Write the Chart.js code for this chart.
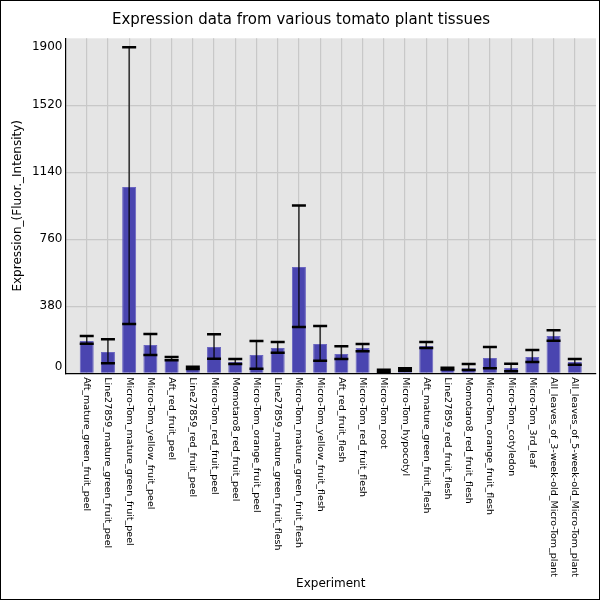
<!DOCTYPE html>
<html>
<head>
<meta charset="utf-8">
<script src="https://cdn.jsdelivr.net/npm/chart.js@4.4.1/dist/chart.umd.min.js"></script>
<style>
  html, body { margin: 0; padding: 0; background: #fff; }
  #wrap { width: 600px; height: 600px; }
</style>
</head>
<body>
<div id="wrap"><canvas id="exprChart" width="600" height="600"></canvas></div>
<script>
// tissues on the x axis
var tissues = [
  'Aft_mature_green_fruit_peel',
  'Line27859_mature_green_fruit_peel',
  'Micro-Tom_mature_green_fruit_peel',
  'Micro-Tom_yellow_fruit_peel',
  'Aft_red_fruit_peel',
  'Line27859_red_fruit_peel',
  'Micro-Tom_red_fruit_peel',
  'Momotaro8_red_fruit_peel',
  'Micro-Tom_orange_fruit_peel',
  'Line27859_mature_green_fruit_flesh',
  'Micro-Tom_mature_green_fruit_flesh',
  'Micro-Tom_yellow_fruit_flesh',
  'Aft_red_fruit_flesh',
  'Micro-Tom_red_fruit_flesh',
  'Micro-Tom_root',
  'Micro-Tom_hypocotyl',
  'Aft_mature_green_fruit_flesh',
  'Line27859_red_fruit_flesh',
  'Momotaro8_red_fruit_flesh',
  'Micro-Tom_orange_fruit_flesh',
  'Micro-Tom_cotyledon',
  'Micro-Tom_3rd_leaf',
  'All_leaves_of_3-week-old_Micro-Tom_plant',
  'All_leaves_of_5-week-old_Micro-Tom_plant'
];

// mean expression
var expression = [183, 121, 1057, 161, 81, 30, 149, 64, 104, 144, 603, 166,
                  109, 144, 15, 19, 155, 26, 28, 87, 30, 92, 212, 64];
// error bar ends
var errLow  = [168, 57, 279, 104, 74, 24, 83, 53, 26, 117, 263, 71,
               81, 125, 9, 14, 144, 21, 19, 28, 11, 64, 185, 49];
var errHigh = [212, 193, 1849, 223, 92, 37, 221, 81, 183, 178, 951, 268,
               153, 166, 20, 28, 178, 32, 53, 149, 54, 132, 244, 81];

var yTicks = [0, 380, 760, 1140, 1520, 1900];

var chartTitle = 'Expression data from various tomato plant tissues';
var yTitle = 'Expression_(Fluor._Intensity)';
var xTitle = 'Experiment';

var FONT = '"DejaVu Sans", sans-serif';

// grey panel behind the plot
var panelBg = {
  id: 'panelBg',
  beforeDraw: function(chart) {
    var ctx = chart.ctx, a = chart.chartArea;
    ctx.save();
    ctx.fillStyle = '#e5e5e5';
    ctx.fillRect(a.left, a.top, a.right - a.left, a.bottom - a.top);
    ctx.restore();
  }
};

// error bars from errLow / errHigh
var errorBars = {
  id: 'errorBars',
  afterDatasetsDraw: function(chart) {
    var ctx = chart.ctx;
    var xs = chart.scales.x, ys = chart.scales.y;
    var half = 7;
    ctx.save();
    for (var i = 0; i < expression.length; i++) {
      var x = xs.getPixelForValue(i);
      var yl = ys.getPixelForValue(errLow[i]);
      var yh = ys.getPixelForValue(errHigh[i]);
      ctx.strokeStyle = 'rgba(0,0,0,0.8)';
      ctx.lineWidth = 1.5;
      ctx.beginPath();
      ctx.moveTo(x, yl);
      ctx.lineTo(x, yh);
      ctx.stroke();
      ctx.strokeStyle = '#000';
      ctx.lineWidth = 2.5;
      ctx.beginPath();
      ctx.moveTo(x - half, yl); ctx.lineTo(x + half, yl);
      ctx.moveTo(x - half, yh); ctx.lineTo(x + half, yh);
      ctx.stroke();
    }
    ctx.restore();
  }
};

// texts: title, tick labels, axis titles, frame
var texts = {
  id: 'texts',
  afterDraw: function(chart) {
    var ctx = chart.ctx, a = chart.chartArea;
    var xs = chart.scales.x, ys = chart.scales.y;
    ctx.save();
    ctx.fillStyle = '#000';

    ctx.font = '15px ' + FONT;
    ctx.textAlign = 'center';
    ctx.textBaseline = 'middle';
    ctx.fillText(chartTitle, 301, 20);

    // y tick labels, kept inside the panel at both ends
    ctx.font = '12px ' + FONT;
    ctx.textAlign = 'right';
    yTicks.forEach(function(v) {
      var y = ys.getPixelForValue(v);
      y = Math.min(Math.max(y, a.top + 9), a.bottom - 6.5);
      ctx.fillText(String(v), a.left - 3, y);
    });

    // x tick labels, reading top to bottom
    ctx.font = '9.5px ' + FONT;
    ctx.textAlign = 'left';
    tissues.forEach(function(t, i) {
      var x = xs.getPixelForValue(i);
      ctx.save();
      ctx.translate(x, a.bottom + 4);
      ctx.rotate(Math.PI / 2);
      ctx.fillText(t, 0, 0);
      ctx.restore();
    });

    ctx.font = '12px ' + FONT;
    ctx.textAlign = 'center';
    ctx.fillText(xTitle, (a.left + a.right) / 2, 584);

    ctx.save();
    ctx.translate(18, (a.top + a.bottom) / 2);
    ctx.rotate(-Math.PI / 2);
    ctx.fillText(yTitle, 0, 0);
    ctx.restore();

    ctx.strokeStyle = '#000';
    ctx.lineWidth = 1;
    ctx.strokeRect(0.5, 0.5, 599, 599);
    ctx.restore();
  }
};

var ctx1 = document.getElementById('exprChart').getContext('2d');
new Chart(ctx1, {
  type: 'bar',
  data: {
    datasets: [{
      label: 'Expression',
      data: expression.map(function(v, i) { return { x: i, y: v }; }),
      backgroundColor: '#4a45b0',
      borderColor: '#6a65c0',
      borderWidth: 1,
      barPercentage: 0.66,
      categoryPercentage: 1.0
    }]
  },
  options: {
    responsive: false,
    animation: false,
    layout: {
      padding: { left: 65.5, top: 38.3, right: 4, bottom: 226.7 }
    },
    plugins: {
      legend: { display: false },
      title: { display: false },
      tooltip: { enabled: false }
    },
    scales: {
      x: {
        type: 'linear',
        offset: false,
        min: -1,
        max: tissues.length,
        afterBuildTicks: function(scale) {
          scale.ticks = tissues.map(function(_, i) { return { value: i }; });
        },
        afterFit: function(scale) { scale.height = 0; },
        ticks: { display: false },
        grid: { offset: false, color: '#c8c8c8', lineWidth: 1.2, drawTicks: false },
        border: { display: true, color: '#000', width: 1.2 }
      },
      y: {
        min: 0,
        max: 1900,
        afterBuildTicks: function(scale) {
          scale.ticks = yTicks.map(function(v) { return { value: v }; });
        },
        afterFit: function(scale) { scale.width = 0; },
        ticks: { display: false },
        grid: {
          color: function(c) {
            var v = c.tick ? c.tick.value : 0;
            return (v === 0 || v === 1900) ? 'rgba(0,0,0,0)' : '#c8c8c8';
          },
          lineWidth: 1.2,
          drawTicks: false
        },
        border: { display: true, color: '#000', width: 1.2 }
      }
    }
  },
  plugins: [panelBg, errorBars, texts]
});
</script>
</body>
</html>
